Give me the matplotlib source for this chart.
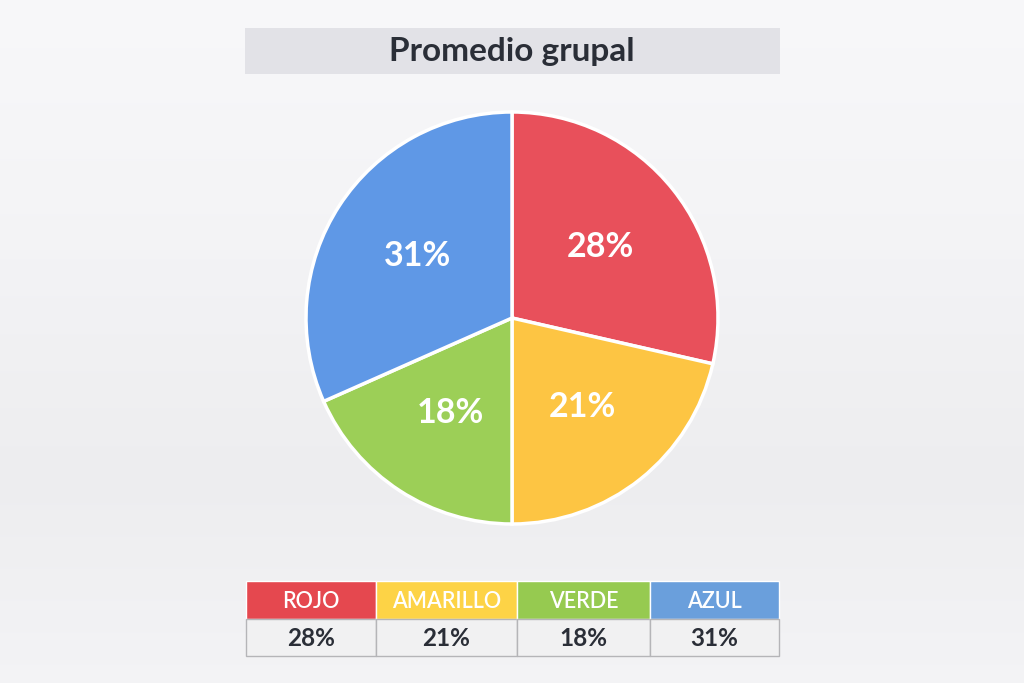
import numpy as np
import matplotlib
matplotlib.use('Agg')
import matplotlib.pyplot as plt
from matplotlib.patches import Rectangle

plt.rcParams['font.family'] = ['Lato', 'DejaVu Sans']

# datos
title = 'Promedio grupal'
categories = ['ROJO', 'AMARILLO', 'VERDE', 'AZUL']
values = [28, 21, 18, 31]
pie_colors = ['#e8505b', '#fdc543', '#9ccf57', '#5f98e6']
header_colors = ['#e5484f', '#fdd346', '#96ca50', '#6a9fdc']

W, H = 1024, 683
fig = plt.figure(figsize=(W / 100, H / 100), dpi=100)

# fondo con degradado suave
bg = fig.add_axes([0, 0, 1, 1], zorder=0)
grad = np.interp(np.linspace(0, 1, 300), [0, 0.35, 0.7, 1], [0.972, 0.955, 0.93, 0.955])
img = np.stack([grad, grad, grad + 0.008], axis=-1)[:, None, :].repeat(2, axis=1)
bg.imshow(np.clip(img, 0, 1), aspect='auto', extent=[0, 1, 0, 1])
bg.set_axis_off()

# capa para titulo y tabla, en pixeles
ov = fig.add_axes([0, 0, 1, 1], zorder=2)
ov.set_xlim(0, W)
ov.set_ylim(H, 0)
ov.set_axis_off()
ov.patch.set_alpha(0)

ov.add_patch(Rectangle((245, 28), 535, 46, facecolor='#e2e2e7', edgecolor='none'))
ov.text(512, 52, title, ha='center', va='center', fontsize=24, fontweight='bold', color='#2a2e37')

# tabla
col_x = [246, 376, 517, 650, 779]
for i, (cat, val) in enumerate(zip(categories, values)):
    x0, x1 = col_x[i], col_x[i + 1]
    ov.add_patch(Rectangle((x0, 581), x1 - x0, 38, facecolor=header_colors[i], edgecolor='white', lw=1))
    ov.add_patch(Rectangle((x0, 619), x1 - x0, 37, facecolor='#f1f1f2', edgecolor='#b5b5b8', lw=1))
    ov.text((x0 + x1) / 2, 601, cat, ha='center', va='center', fontsize=15.5,
            fontweight='semibold', color='white')
    ov.text((x0 + x1) / 2, 638, f'{val}%', ha='center', va='center', fontsize=17.5,
            fontweight='bold', color='#2a2e37')

# pastel
r = 206
ax = fig.add_axes([(512 - r) / W, (H - 318 - r) / H, 2 * r / W, 2 * r / H], zorder=1)
total = sum(values)
wedges, texts, autotexts = ax.pie(values, colors=pie_colors, startangle=90, counterclock=False,
                                  autopct=lambda p: f'{round(p * total / 100)}%', pctdistance=0.55,
                                  wedgeprops=dict(edgecolor='white', linewidth=2.5))
for t in autotexts:
    t.set_color('white')
    t.set_fontsize(24.5)
    t.set_fontweight('bold')
ax.set_xlim(-1.0, 1.0)
ax.set_ylim(-1.0, 1.0)
ax.set_aspect('equal')

fig.savefig('out.png', dpi=100)
